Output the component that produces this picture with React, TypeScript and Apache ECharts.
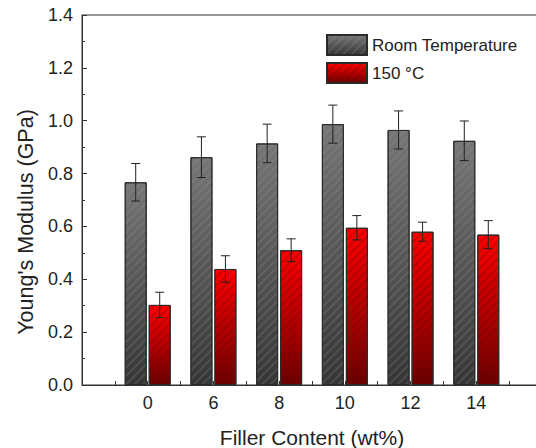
import React, { useEffect, useRef } from "react";
import * as echarts from "echarts";

const categories = ["0", "6", "8", "10", "12", "14"];
const roomTemp = [0.767, 0.862, 0.914, 0.987, 0.965, 0.924];
const roomTempErr = [0.071, 0.077, 0.073, 0.072, 0.072, 0.075];
const hot150 = [0.303, 0.439, 0.51, 0.595, 0.58, 0.569];
const hot150Err = [0.048, 0.05, 0.043, 0.046, 0.036, 0.053];
const yTicks = [0, 0.2, 0.4, 0.6, 0.8, 1.0, 1.2, 1.4];

const FONT = "Liberation Sans, Arial, sans-serif";

export default function App() {
  const ref = useRef<HTMLDivElement>(null);
  useEffect(() => {
    if (!ref.current) return;
    document.body.style.margin = "0";
    document.body.style.overflow = "hidden";
    const chart = echarts.init(ref.current, undefined, { renderer: "svg" });
    const grayGrad = new echarts.graphic.LinearGradient(0, 0, 0, 1, [
      { offset: 0, color: "#767676" },
      { offset: 1, color: "#353535" },
    ]);
    const redGrad = new echarts.graphic.LinearGradient(0, 0, 0, 1, [
      { offset: 0, color: "#ff0000" },
      { offset: 1, color: "#6a0000" },
    ]);
    const decal = (color: string) => ({
      symbol: "rect",
      symbolSize: 1,
      dashArrayX: [1, 0],
      dashArrayY: [1.5, 3.5],
      rotation: -Math.PI / 4,
      color,
    });
    const errSeries = (vals: number[], errs: number[], offset: number, name: string) => ({
      type: "custom",
      name: name + "_err",
      data: vals.map((v, i) => [i, v, errs[i]]),
      z: 10,
      silent: true,
      renderItem: (params: any, api: any) => {
        const x = api.value(0);
        const v = api.value(1);
        const e = api.value(2);
        const top = api.coord([x, v + e]);
        const bot = api.coord([x, v - e]);
        const cx = top[0] + offset;
        const hw = 4.5;
        const st = { stroke: "#222", lineWidth: 1 };
        return {
          type: "group",
          children: [
            { type: "line", shape: { x1: cx, y1: top[1], x2: cx, y2: bot[1] }, style: st },
            { type: "line", shape: { x1: cx - hw, y1: top[1], x2: cx + hw, y2: top[1] }, style: st },
            { type: "line", shape: { x1: cx - hw, y1: bot[1], x2: cx + hw, y2: bot[1] }, style: st },
          ],
        };
      },
    });
    chart.setOption({
      animation: false,
      backgroundColor: "#ffffff",
      textStyle: { fontFamily: FONT },
      grid: {
        left: 82,
        right: -6,
        top: 15,
        bottom: 63,
        outerBoundsMode: "none",
        containLabel: false,
        show: true,
        borderColor: "#333",
        borderWidth: 1,
        backgroundColor: "transparent",
      },
      legend: {
        orient: "vertical",
        left: 326,
        top: 34,
        padding: 0,
        itemWidth: 40,
        itemHeight: 20,
        itemGap: 6,
        icon: "rect",
        textStyle: { fontSize: 17, color: "#222", fontFamily: FONT },
        data: ["Room Temperature", "150 °C"],
      },
      xAxis: {
        type: "value",
        min: -1,
        max: 6,
        interval: 0.5,
        splitLine: { show: false },
        axisLine: { onZero: false, lineStyle: { color: "#333", width: 1 } },
        axisTick: { inside: true, length: 4, lineStyle: { color: "#333" } },
        axisLabel: {
          margin: 9,
          fontSize: 18,
          color: "#222",
          fontFamily: FONT,
          formatter: (v: number) =>
            Number.isInteger(v) && v >= 0 && v < categories.length ? categories[v] : "",
        },
        name: "Filler Content (wt%)",
        nameLocation: "middle",
        nameGap: 42,
        nameTextStyle: { fontSize: 21, color: "#222", fontFamily: FONT },
      },
      yAxis: {
        type: "value",
        min: yTicks[0],
        max: yTicks[yTicks.length - 1],
        interval: 0.2,
        splitLine: { show: false },
        axisLine: { show: true, onZero: false, lineStyle: { color: "#333", width: 1 } },
        axisTick: { show: true, inside: true, length: 5, lineStyle: { color: "#333" } },
        minorTick: { show: true, splitNumber: 2, length: 3, lineStyle: { color: "#333" } },
        axisLabel: {
          margin: 9,
          fontSize: 18,
          color: "#222",
          fontFamily: FONT,
          formatter: (v: number) => v.toFixed(1),
        },
        name: "Young's Modulus (GPa)",
        nameLocation: "middle",
        nameGap: 43,
        nameTextStyle: {
          fontSize: 21.5,
          color: "#222",
          fontFamily: FONT,
          padding: [0, 44, 0, 0],
        },
      },
      series: [
        {
          type: "bar",
          name: "Room Temperature",
          data: roomTemp.map((v, i) => [i, v]),
          barWidth: 22,
          barGap: "9%",
          itemStyle: {
            color: grayGrad,
            borderColor: "#2a2a2a",
            borderWidth: 1,
            decal: decal("rgba(150,150,150,0.22)"),
          },
        },
        {
          type: "bar",
          name: "150 °C",
          data: hot150.map((v, i) => [i, v]),
          barWidth: 22,
          barGap: "9%",
          itemStyle: {
            color: redGrad,
            borderColor: "#2a2a2a",
            borderWidth: 1,
            decal: decal("rgba(110,0,0,0.28)"),
          },
        },
        errSeries(roomTemp, roomTempErr, -12, "rt"),
        errSeries(hot150, hot150Err, 12, "hot"),
      ],
    });
    return () => chart.dispose();
  }, []);
  return <div ref={ref} style={{ width: 536, height: 448 }} />;
}
